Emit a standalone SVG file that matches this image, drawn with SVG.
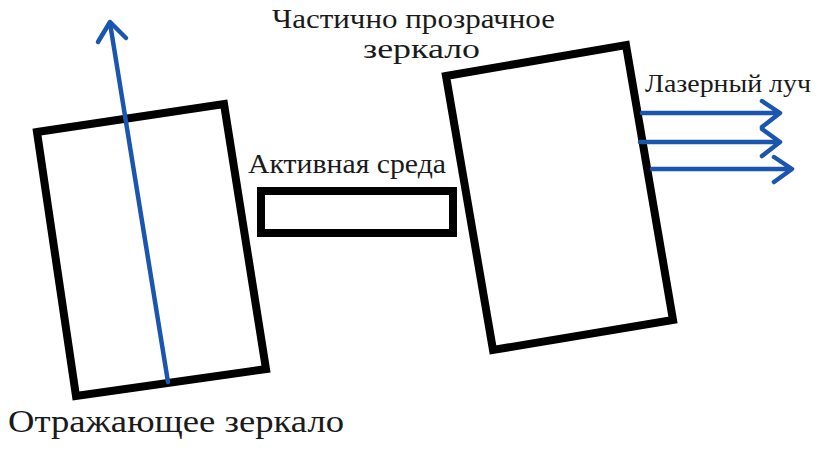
<svg xmlns="http://www.w3.org/2000/svg" width="828" height="464" viewBox="0 0 828 464">
<style>
.frame{fill:none;stroke:#000;stroke-width:8;stroke-linejoin:miter}
.beam{fill:none;stroke:#1a56b0;stroke-width:4.5;stroke-linecap:round;stroke-linejoin:round}
.lbl{font-family:"Liberation Serif","DejaVu Serif",serif;fill:#1a1a1a}
</style>
<rect width="828" height="464" fill="#fff"/>
<g id="reflecting-mirror">
<polygon class="frame" points="37,132 224,104 266,369 76,396"/>
<text class="lbl" x="8" y="432" font-size="32" textLength="336" lengthAdjust="spacingAndGlyphs">Отражающее зеркало</text>
</g>
<g id="active-medium">
<rect class="frame" x="261" y="191" width="192" height="42"/>
<text class="lbl" x="248" y="173" font-size="27" textLength="198" lengthAdjust="spacingAndGlyphs">Активная среда</text>
</g>
<g id="partial-mirror">
<polygon class="frame" points="446,76 626,45 673,320 493,350"/>
<text class="lbl" x="272" y="28" font-size="27" textLength="283" lengthAdjust="spacingAndGlyphs">Частично прозрачное</text>
<text class="lbl" x="363" y="58" font-size="27" textLength="117" lengthAdjust="spacingAndGlyphs">зеркало</text>
</g>
<g id="laser-beam-label">
<text class="lbl" x="645" y="92" font-size="26" textLength="166" lengthAdjust="spacingAndGlyphs">Лазерный луч</text>
</g>
<g id="connectors">
<path class="beam" d="M168,382 L110,23"/>
<path class="beam" d="M98,42 L110,22 L126,38"/>
<path class="beam" d="M642,113 L779,113 M762,101 L780,113 L762,127"/>
<path class="beam" d="M640,142 L779,142 M762,129 L780,142 L762,156"/>
<path class="beam" d="M652,169 L791,169 M774,157 L792,169 L774,182"/>
</g>
</svg>
